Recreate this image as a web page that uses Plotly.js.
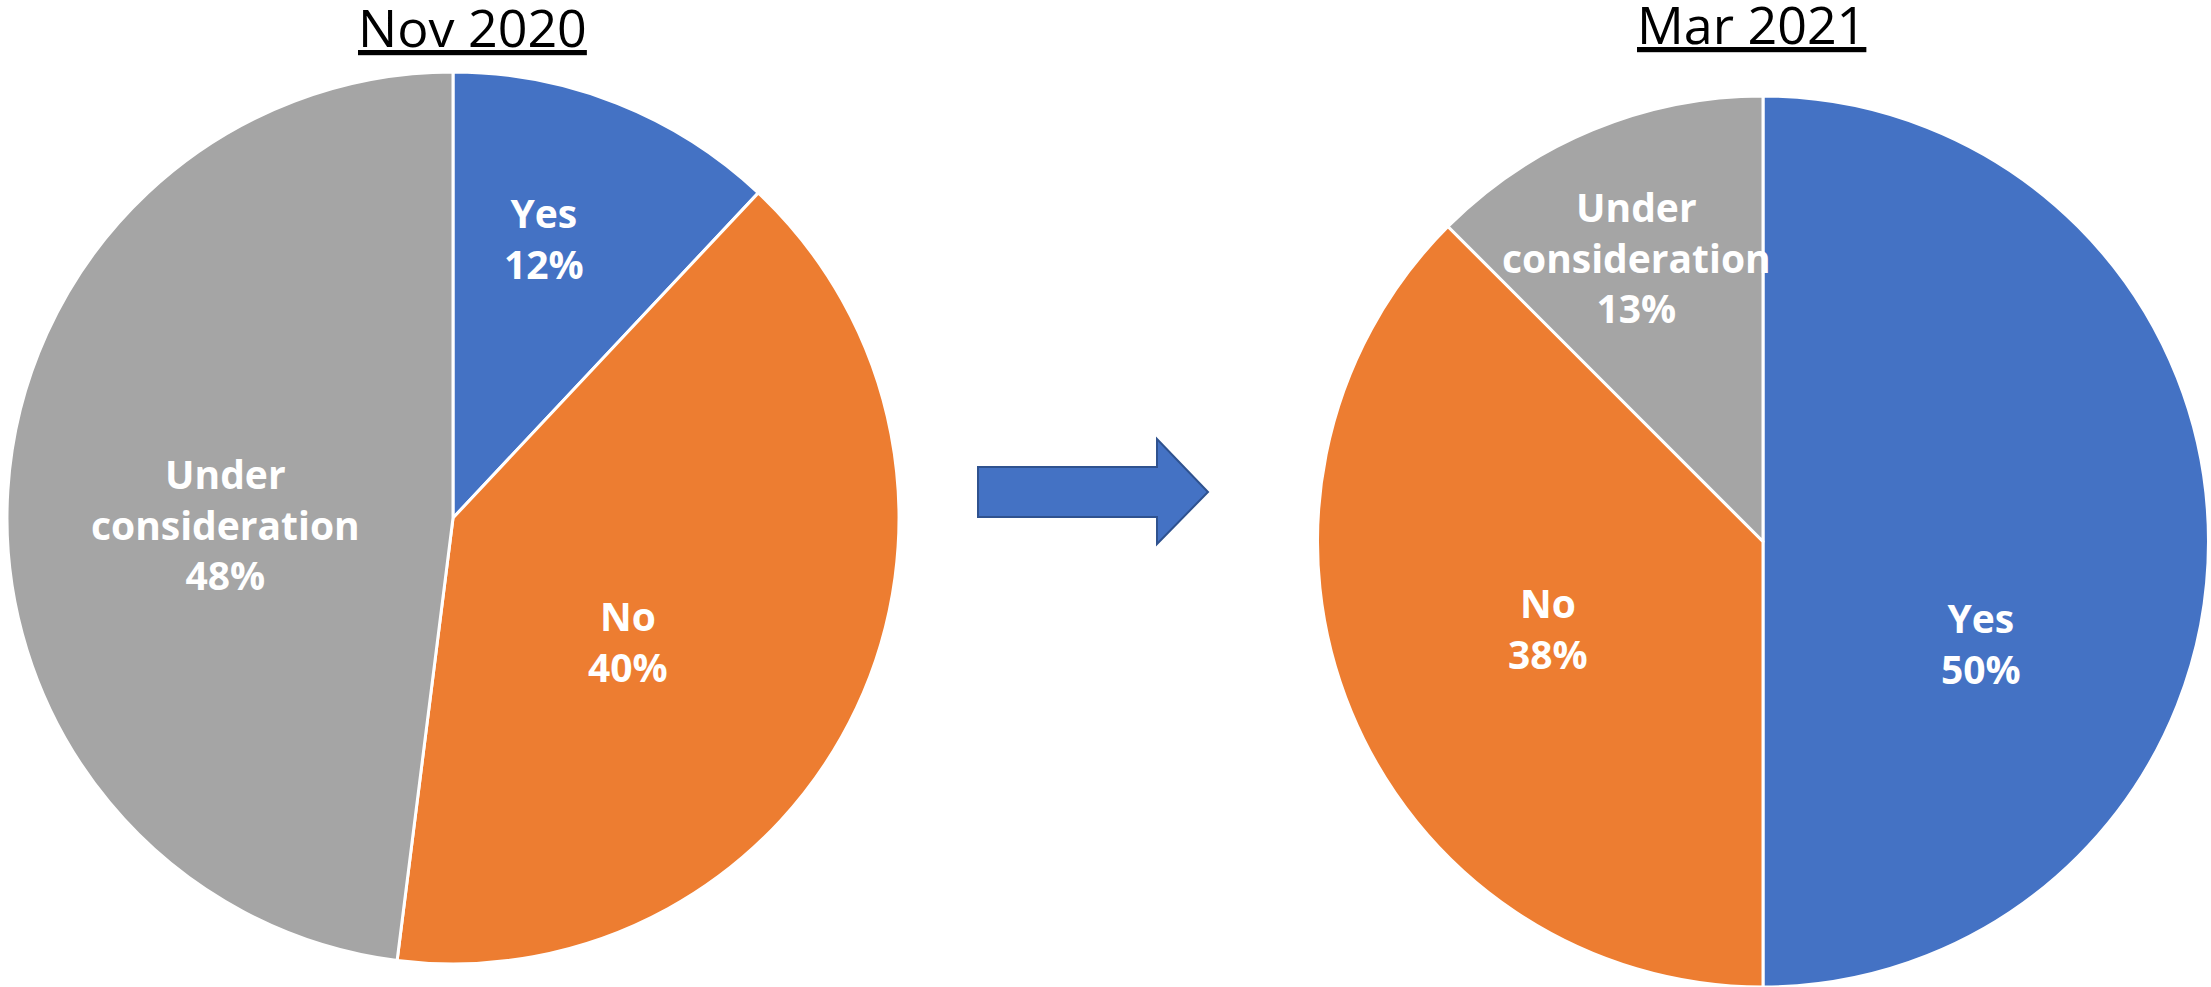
<!DOCTYPE html>
<html>
<head>
<meta charset="utf-8">
<script src="https://cdn.plot.ly/plotly-3.0.1.min.js"></script>
<style>
  html, body { margin: 0; padding: 0; background: #fff; }
  #chart { width: 2211px; height: 987px; }
</style>
</head>
<body>
<div id="chart"></div>
<script>
// Datos de las dos encuestas
const categories = ['Yes', 'No', 'Under consideration'];
const labelText = ['Yes', 'No', 'Under<br>consideration'];
const nov2020 = [12, 40, 48];
const mar2021 = [50, 37.5, 12.5];
const titles = ['Nov 2020', 'Mar 2021'];
const colors = ['#4472C4', '#ED7D31', '#A5A5A5'];

const W = 2211, H = 987;
const px = x => x / W;
const py = y => 1 - y / H;

// Geometría de cada pastel (centro y radio en píxeles)
const pies = [
    { values: nov2020, cx: 453, cy: 518, r: 446, title: titles[0], titleX: 472, titleY: 26,
      // posición de etiquetas: [fracción del radio, ángulo en grados desde arriba]
      labelPos: [[0.66, 18], [0.48, 125], [0.51, 268.5]] },
    { values: mar2021, cx: 1763, cy: 541.5, r: 445.5, title: titles[1], titleX: 1752, titleY: 23,
      labelPos: [[0.54, 115], [0.52, 248], [0.70, 336]] }
];

const labelFont = { family: '"Open Sans", sans-serif', size: 39, color: '#FFFFFF', weight: 'bold' };
const titleFont = { family: '"Open Sans", sans-serif', size: 52, color: '#000000' };

const data = pies.map(p => ({
    type: 'pie',
    labels: categories,
    values: p.values,
    sort: false,
    direction: 'clockwise',
    rotation: 0,
    domain: {
        x: [px(p.cx - p.r), px(p.cx + p.r)],
        y: [Math.max(0, py(p.cy + p.r)), py(p.cy - p.r)]
    },
    marker: { colors: colors, line: { color: '#FFFFFF', width: 3 } },
    textinfo: 'none',
    hoverinfo: 'label+percent',
    showlegend: false
}));

const annotations = [];
pies.forEach(p => {
    annotations.push({
        text: '<u>' + p.title + '</u>', x: px(p.titleX), y: py(p.titleY),
        xref: 'paper', yref: 'paper', xanchor: 'center', yanchor: 'middle',
        showarrow: false, font: titleFont
    });
    const total = p.values.reduce((a, b) => a + b, 0);
    p.values.forEach((v, i) => {
        const [f, deg] = p.labelPos[i];
        const a = deg * Math.PI / 180;
        const x = p.cx + f * p.r * Math.sin(a);
        const y = p.cy - f * p.r * Math.cos(a);
        annotations.push({
            text: labelText[i] + '<br>' + Math.round(v / total * 100) + '%',
            x: px(x), y: py(y), xref: 'paper', yref: 'paper',
            xanchor: 'center', yanchor: 'middle', align: 'center',
            showarrow: false, font: labelFont
        });
    });
});

// Flecha entre los dos gráficos
const arrow = [[978, 467], [1157, 467], [1157, 439], [1208, 492], [1157, 544], [1157, 517], [978, 517]];
const arrowPath = 'M' + arrow.map(p => px(p[0]) + ',' + py(p[1])).join('L') + 'Z';

const layout = {
    width: W,
    height: H,
    margin: { l: 0, r: 0, t: 0, b: 0 },
    paper_bgcolor: '#FFFFFF',
    plot_bgcolor: '#FFFFFF',
    annotations: annotations,
    shapes: [{
        type: 'path',
        xref: 'paper',
        yref: 'paper',
        path: arrowPath,
        fillcolor: '#4472C4',
        line: { color: '#2F528F', width: 2 }
    }]
};

Plotly.newPlot('chart', data, layout, { displayModeBar: false, staticPlot: true });
</script>
</body>
</html>
